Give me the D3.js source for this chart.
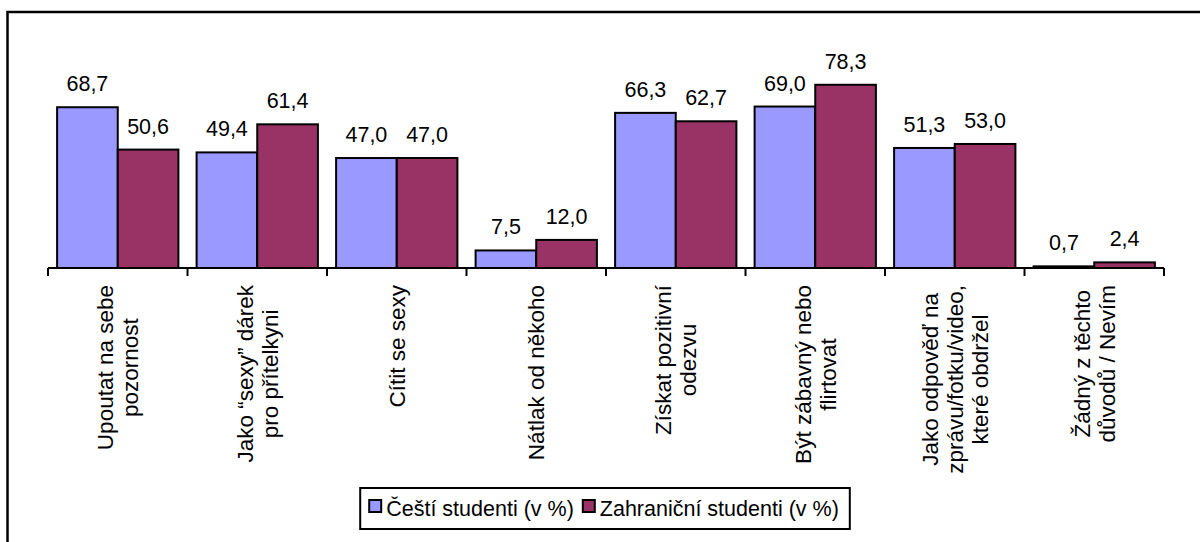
<!DOCTYPE html>
<html>
<head>
<meta charset="utf-8">
<script src="https://cdn.jsdelivr.net/npm/d3@7"></script>
<style>
  body { margin: 0; background: #fff; }
  svg { display: block; font-family: "Liberation Sans", Arial, sans-serif; }
</style>
</head>
<body>
<div class="chart"></div>
<script>
const categories = [
  "Upoutat na sebe\npozornost",
  "Jako \u201csexy\u201d dárek\npro přítelkyni",
  "Cítit se sexy",
  "Nátlak od někoho",
  "Získat pozitivní\nodezvu",
  "Být zábavný nebo\nflirtovat",
  "Jako odpověď na\nzprávu/fotku/video,\nkteré obdržel",
  "Žádný z těchto\ndůvodů / Nevím"
]
const series = ["Čeští studenti (v %)", "Zahraniční studenti (v %)"]
const czech = [68.7, 49.4, 47.0, 7.5, 66.3, 69.0, 51.3, 0.7]
const foreign = [50.6, 61.4, 47.0, 12.0, 62.7, 78.3, 53.0, 2.4]
const colors = ["#9999ff", "#993366"]

const width = 1200
const height = 542
const valueFont = 21.5
const catFont = 22.5
const legendFont = 21.5

const svg = d3.select(".chart").append("svg")
  .attr("width", width)
  .attr("height", height)

// outer frame (runs off the right and bottom edge)
svg.append("rect")
  .attr("x", 7.5).attr("y", 12)
  .attr("width", 1300).attr("height", 700)
  .attr("fill", "none")
  .attr("stroke", "#000")
  .attr("stroke-width", 2.5)

const x = d3.scaleBand()
  .domain(d3.range(categories.length))
  .range([48, 1164])

const xSub = d3.scaleBand()
  .domain(d3.range(series.length))
  .range([0, x.bandwidth()])
  .paddingOuter(0.15)

const y = d3.scaleLinear()
  .domain([0, 80])
  .range([268, 80.8])

const values = categories.map((c, i) => [czech[i], foreign[i]])

const groups = svg.selectAll(".cat")
  .data(values)
  .enter()
  .append("g")
  .attr("class", "cat")
  .attr("transform", (d, i) => "translate(" + x(i) + ",0)")

groups.selectAll("rect")
  .data(d => d)
  .enter()
  .append("rect")
  .attr("x", (d, j) => xSub(j))
  .attr("y", d => y(d))
  .attr("width", xSub.bandwidth())
  .attr("height", d => y(0) - y(d))
  .attr("fill", (d, j) => colors[j])
  .attr("stroke", "#000")
  .attr("stroke-width", 2)

groups.selectAll("text.val")
  .data(d => d)
  .enter()
  .append("text")
  .attr("class", "val")
  .attr("x", (d, j) => xSub(j) + xSub.bandwidth() / 2)
  .attr("y", d => y(d) - 16)
  .attr("text-anchor", "middle")
  .style("font-size", valueFont + "px")
  .attr("fill", "#000")
  .text(d => d.toFixed(1).replace(".", ","))

// axis line and ticks
svg.append("line")
  .attr("x1", x.range()[0]).attr("x2", x.range()[1])
  .attr("y1", y(0)).attr("y2", y(0))
  .attr("stroke", "#000").attr("stroke-width", 2)

svg.selectAll(".tick")
  .data(d3.range(categories.length + 1))
  .enter()
  .append("line")
  .attr("x1", i => x.range()[0] + i * x.step())
  .attr("x2", i => x.range()[0] + i * x.step())
  .attr("y1", y(0)).attr("y2", y(0) + 8)
  .attr("stroke", "#000").attr("stroke-width", 2)

// rotated category labels
const lineH = 25
categories.forEach(function(c, i) {
  const lines = c.split("\n")
  const g = svg.append("g")
  const t = g.append("text")
    .attr("text-anchor", "middle")
    .style("font-size", catFont + "px")
    .attr("fill", "#000")
  lines.forEach(function(l, k) {
    t.append("tspan")
      .attr("x", 0)
      .attr("y", (k - (lines.length - 1) / 2) * lineH)
      .attr("dy", "0.35em")
      .text(l)
  })
  let maxLen = 0
  t.selectAll("tspan").each(function() {
    maxLen = Math.max(maxLen, this.getComputedTextLength())
  })
  g.attr("transform", "translate(" + (x(i) + x.bandwidth() / 2) + "," + (285 + maxLen / 2) + ") rotate(-90)")
})

// legend
const legend = svg.append("g")
const box = legend.append("rect")
  .attr("fill", "#fff")
  .attr("stroke", "#000")
  .attr("stroke-width", 2)
const legItems = legend.append("g")
let lx = 0
series.forEach(function(s, j) {
  legItems.append("rect")
    .attr("x", lx).attr("y", 500)
    .attr("width", 12).attr("height", 12)
    .attr("fill", colors[j])
    .attr("stroke", "#000").attr("stroke-width", 2)
  const tx = legItems.append("text")
    .attr("x", lx + 17).attr("y", 516)
    .style("font-size", legendFont + "px")
    .attr("fill", "#000")
    .text(s)
  lx += 17 + tx.node().getComputedTextLength() + 9
})
const legW = lx - 9
const legX = 604 - legW / 2
legItems.attr("transform", "translate(" + legX + ",0)")
box.attr("x", legX - 9).attr("y", 488)
  .attr("width", legW + 20).attr("height", 41)
</script>
</body>
</html>
